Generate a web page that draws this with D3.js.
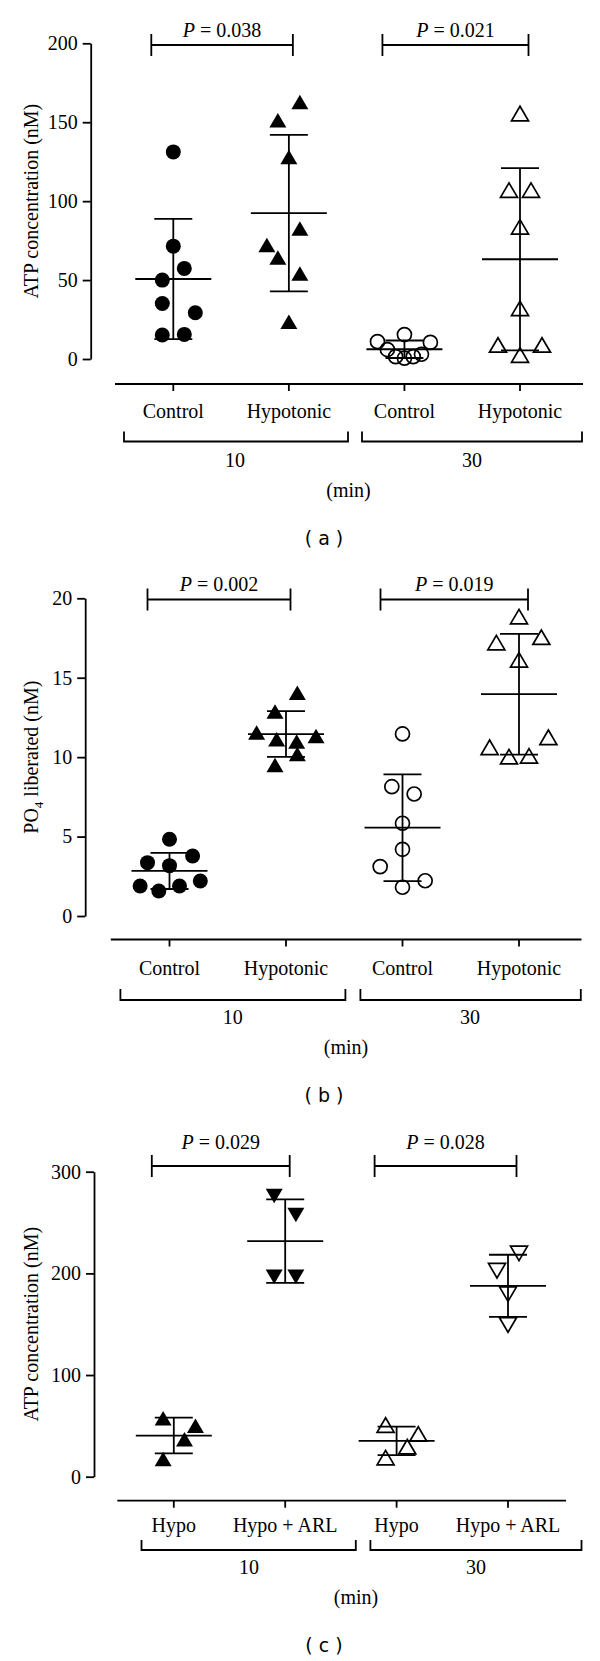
<!DOCTYPE html>
<html><head><meta charset="utf-8">
<script src="https://cdn.jsdelivr.net/npm/d3@7"></script>
<style>body{margin:0;background:#fff}svg{display:block}</style>
</head><body>
<svg id="chart" width="600" height="1661"></svg>
<script>
// ================= DATA =================
// Panel (a) — ATP concentration (nM)
const aCategories = ["Control", "Hypotonic", "Control", "Hypotonic"];
const aGroups = ["10", "30"];
const aYTicks = [0, 50, 100, 150, 200];
const aControl10   = [131.2, 71.5, 57.4, 50, 35.2, 29.3, 15.2, 15.6];
const aHypotonic10 = [162.8, 151.3, 128, 82.7, 72.2, 64.3, 54.2, 23.6];
const aControl30   = [15.5, 11, 10.5, 6, 1.5, 0.5, 1.5, 3];
const aHypotonic30 = [155.5, 107, 107, 83.7, 32.1, 8.9, 8.9, 2.5];
const aPValues = ["0.038", "0.021"];

// Panel (b) — PO4 liberated (nM)
const bCategories = ["Control", "Hypotonic", "Control", "Hypotonic"];
const bGroups = ["10", "30"];
const bYTicks = [0, 5, 10, 15, 20];
const bControl10   = [4.83, 3.36, 3.78, 3.17, 1.89, 1.57, 1.89, 2.2];
const bHypotonic10 = [14.06, 12.87, 11.55, 11.33, 11.13, 10.98, 10.2, 9.51];
const bControl30   = [11.46, 8.14, 7.68, 5.84, 4.2, 3.11, 2.22, 1.81];
const bHypotonic30 = [18.85, 17.21, 17.55, 16.12, 10.62, 10.03, 10.08, 11.25];
const bPValues = ["0.002", "0.019"];

// Panel (c) — ATP concentration (nM)
const cCategories = ["Hypo", "Hypo + ARL", "Hypo", "Hypo + ARL"];
const cGroups = ["10", "30"];
const cYTicks = [0, 100, 200, 300];
const cHypo10    = [57.4, 50.2, 36.8, 17.4];
const cHypoARL10 = [276, 257.3, 196.7, 196.7];
const cHypo30    = [50.8, 42, 29.5, 18.7];
const cHypoARL30 = [219.7, 202.6, 179.6, 149.2];
const cPValues = ["0.029", "0.028"];

// Horizontal scatter slots of each point (in symbol-width units, layout only)
const aJitter = [[0,0,1,-1,-1,2,-1,1],[1,-1,0,1,-2,-1,1,0],[0,-2.45,2.36,-1.55,-0.8,0,0.8,1.55],[0,-1,1,0,0,-2,2,0]];
const bJitter = [[0,-2,2.1,0,-2.67,-0.97,0.91,2.8],[1.03,-1,-2.67,2.73,-0.85,0.97,1.03,-1],[0,-0.97,1.06,0,0,-2.03,2.06,0],[0,-2.06,2.03,0,-2.67,-0.91,0.91,2.67]];
const cJitter = [[-0.97,1.97,0.97,-0.97],[-1,0.97,-1,0.97],[-1,1.97,0.97,-1],[1,-1,0,0]];

// ================= DRAWING =================
const svg = d3.select("#chart");
const SERIF = "'Liberation Serif','Times New Roman',serif";
const SANS = "'DejaVu Sans',Verdana,sans-serif";
const LW = 1.8;

function symbolPath(kind) {
  const s = 17, h = 14.5;
  if (kind.startsWith("up")) return `M0,${-h/2}L${s/2},${h/2}L${-s/2},${h/2}Z`;
  return `M0,${h/2}L${s/2},${-h/2}L${-s/2},${-h/2}Z`;
}

function drawPanel(cfg) {
  const g = svg.append("g");
  const y = d3.scaleLinear().domain([0, cfg.yMax]).range(cfg.yRange);
  const x = d3.scalePoint().domain(d3.range(cfg.categories.length)).range(cfg.colRange);
  const jit = d3.scaleLinear().domain([-1, 1]).range([-11, 11]);

  // y axis
  const ax = g.append("g").attr("transform", `translate(${cfg.yAxisX},0)`)
    .call(d3.axisLeft(y).tickValues(cfg.yTicks).tickSize(8).tickSizeOuter(0).tickPadding(5).tickFormat(d3.format("d")));
  ax.selectAll("path,line").attr("stroke", "#000").attr("stroke-width", LW);
  ax.selectAll("text").attr("font-family", SERIF).attr("font-size", 20).attr("fill", "#000");

  // y label
  const ymid = (cfg.yRange[0] + cfg.yRange[1]) / 2;
  const yl = g.append("text").attr("transform", `translate(${cfg.yLabelX},${ymid}) rotate(-90)`)
    .attr("text-anchor", "middle").attr("dy", "0.35em")
    .attr("font-family", SERIF).attr("font-size", 20).attr("fill", "#000");
  cfg.yLabel.forEach(p => {
    const t = yl.append("tspan").text(p.t);
    if (p.sub) t.attr("font-size", 13).attr("dy", "0.35em");
    if (p.after) t.attr("dy", "-0.25em");
  });

  // x axis
  g.append("line").attr("x1", cfg.xAxisExtent[0]).attr("x2", cfg.xAxisExtent[1])
    .attr("y1", cfg.xAxisY).attr("y2", cfg.xAxisY).attr("stroke", "#000").attr("stroke-width", LW);
  g.selectAll(".xt").data(cfg.categories).join("line")
    .attr("x1", (d, i) => x(i)).attr("x2", (d, i) => x(i))
    .attr("y1", cfg.xAxisY).attr("y2", cfg.xAxisY + 7).attr("stroke", "#000").attr("stroke-width", LW);
  g.selectAll(".xl").data(cfg.categories).join("text")
    .attr("x", (d, i) => x(i)).attr("y", cfg.catLabelY).attr("text-anchor", "middle")
    .attr("font-family", SERIF).attr("font-size", 20).attr("fill", "#000").text(d => d);

  // group brackets
  cfg.groups.forEach((gl, k) => {
    const [x1, x2] = cfg.groupBrackets[k];
    g.append("path").attr("d", `M${x1},${cfg.groupTop}V${cfg.groupBottom}H${x2}V${cfg.groupTop}`)
      .attr("fill", "none").attr("stroke", "#000").attr("stroke-width", LW);
    g.append("text").attr("x", cfg.groupLabelX[k]).attr("y", cfg.groupLabelY).attr("text-anchor", "middle")
      .attr("font-family", SERIF).attr("font-size", 20).attr("fill", "#000").text(gl);
  });
  g.append("text").attr("x", cfg.minX).attr("y", cfg.minY).attr("text-anchor", "middle")
    .attr("font-family", SERIF).attr("font-size", 20).attr("fill", "#000").text("(min)");
  g.append("text").attr("x", 324).attr("y", cfg.panelY).attr("text-anchor", "middle")
    .attr("font-family", SANS).attr("font-size", 19).attr("fill", "#000").attr("xml:space", "preserve")
    .text(`( ${cfg.panelLetter} )`);

  // P brackets
  cfg.pValues.forEach((p, k) => {
    const [i0, i1] = cfg.pPairs[k];
    const x1 = x(i0) - 22, x2 = x(i1) + cfg.pRightPad[k];
    const yb = cfg.pBracketY;
    g.append("path").attr("d", `M${x1},${yb - 11}V${yb + 11}M${x1},${yb}H${x2}M${x2},${yb - 11}V${yb + 11}`)
      .attr("fill", "none").attr("stroke", "#000").attr("stroke-width", LW);
    const t = g.append("text").attr("x", (x1 + x2) / 2).attr("y", cfg.pTextY).attr("text-anchor", "middle")
      .attr("font-family", SERIF).attr("font-size", 20).attr("fill", "#000");
    t.append("tspan").attr("font-style", "italic").text("P");
    t.append("tspan").text(" = " + p);
  });

  // series
  cfg.series.forEach((vals, i) => {
    const cx = x(i);
    const m = d3.mean(vals), sd = d3.deviation(vals);
    const kind = cfg.symbols[i];
    const filled = kind.endsWith("Filled");
    const pts = g.append("g");
    vals.forEach((v, j) => {
      const px = cx + jit(cfg.jitter[i][j]), py = y(v);
      if (kind.startsWith("circle")) {
        pts.append("circle").attr("cx", px).attr("cy", py).attr("r", filled ? 7.5 : 7)
          .attr("fill", filled ? "#000" : "none").attr("stroke", "#000").attr("stroke-width", filled ? 0 : 1.7);
      } else {
        pts.append("path").attr("d", symbolPath(kind)).attr("transform", `translate(${px},${py})`)
          .attr("fill", filled ? "#000" : "none").attr("stroke", "#000").attr("stroke-width", filled ? 0 : 1.7)
          .attr("stroke-linejoin", "miter");
      }
    });
    // mean ± SD
    const eb = g.append("g").attr("stroke", "#000").attr("stroke-width", LW);
    eb.append("line").attr("x1", cx).attr("x2", cx).attr("y1", y(m + sd)).attr("y2", y(m - sd));
    eb.append("line").attr("x1", cx - 38).attr("x2", cx + 38).attr("y1", y(m)).attr("y2", y(m));
    eb.append("line").attr("x1", cx - 19).attr("x2", cx + 19).attr("y1", y(m + sd)).attr("y2", y(m + sd));
    eb.append("line").attr("x1", cx - 19).attr("x2", cx + 19).attr("y1", y(m - sd)).attr("y2", y(m - sd));
  });
}

drawPanel({
  categories: aCategories, groups: aGroups, yTicks: aYTicks, yMax: 200,
  series: [aControl10, aHypotonic10, aControl30, aHypotonic30], jitter: aJitter,
  symbols: ["circleFilled", "upFilled", "circleOpen", "upOpen"],
  pValues: aPValues, pPairs: [[0, 1], [2, 3]], pRightPad: [4, 8.5],
  yRange: [359, 43.3], yAxisX: 90.7, colRange: [173.3, 520],
  yLabel: [{t: "ATP concentration (nM)"}], yLabelX: 31,
  xAxisY: 384, xAxisExtent: [115, 583], catLabelY: 418,
  groupBrackets: [[124, 348], [362, 582]], groupTop: 431.5, groupBottom: 441.5,
  groupLabelX: [235, 472], groupLabelY: 466.5, minX: 348.5, minY: 496.5,
  panelLetter: "a", panelY: 544.5, pBracketY: 45, pTextY: 36.5
});

drawPanel({
  categories: bCategories, groups: bGroups, yTicks: bYTicks, yMax: 20,
  series: [bControl10, bHypotonic10, bControl30, bHypotonic30], jitter: bJitter,
  symbols: ["circleFilled", "upFilled", "circleOpen", "upOpen"],
  pValues: bPValues, pPairs: [[0, 1], [2, 3]], pRightPad: [4.5, 9],
  yRange: [916, 598.3], yAxisX: 85.2, colRange: [169.5, 519],
  yLabel: [{t: "PO"}, {t: "4", sub: true}, {t: " liberated (nM)", after: true}], yLabelX: 31,
  xAxisY: 939.5, xAxisExtent: [110.8, 581.5], catLabelY: 975,
  groupBrackets: [[120.4, 345.4], [360.4, 580.8]], groupTop: 989, groupBottom: 1000,
  groupLabelX: [232.7, 470], groupLabelY: 1024, minX: 346, minY: 1054,
  panelLetter: "b", panelY: 1101.5, pBracketY: 599.5, pTextY: 590.5
});

drawPanel({
  categories: cCategories, groups: cGroups, yTicks: cYTicks, yMax: 300,
  series: [cHypo10, cHypoARL10, cHypo30, cHypoARL30], jitter: cJitter,
  symbols: ["upFilled", "downFilled", "upOpen", "downOpen"],
  pValues: cPValues, pPairs: [[0, 1], [2, 3]], pRightPad: [4.5, 8.5],
  yRange: [1476.7, 1171.7], yAxisX: 94, colRange: [173.8, 508],
  yLabel: [{t: "ATP concentration (nM)"}], yLabelX: 31,
  xAxisY: 1500.7, xAxisExtent: [117.3, 566], catLabelY: 1531.5,
  groupBrackets: [[141.5, 355.8], [370.4, 581.5]], groupTop: 1540, groupBottom: 1550,
  groupLabelX: [249, 476], groupLabelY: 1574, minX: 356, minY: 1604,
  panelLetter: "c", panelY: 1651.5, pBracketY: 1166, pTextY: 1148.5
});
</script>
</body></html>
